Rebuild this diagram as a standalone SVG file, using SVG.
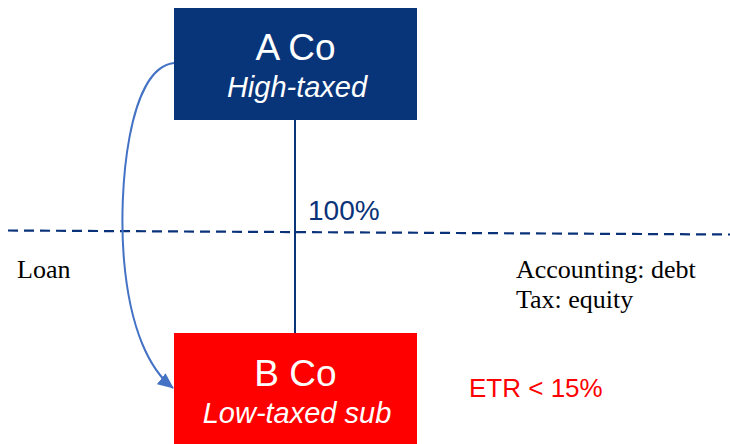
<svg xmlns="http://www.w3.org/2000/svg" width="730" height="444" viewBox="0 0 730 444">
  <style>
    .title { font-family: "Liberation Sans", Arial, sans-serif; font-size: 37px; fill: #ffffff; text-anchor: middle; }
    .sub { font-family: "Liberation Sans", Arial, sans-serif; font-size: 29px; font-style: italic; fill: #ffffff; text-anchor: middle; }
    .note { font-family: "Liberation Serif", "Times New Roman", serif; font-size: 26px; fill: #000000; }
  </style>
  <defs>
    <marker id="arrow" markerWidth="16" markerHeight="14" refX="15" refY="7" orient="auto" markerUnits="userSpaceOnUse" viewBox="0 0 16 14">
      <path d="M0,0 L16,7 L0,14 Z" fill="#4472C4"/>
    </marker>
  </defs>

  <rect width="730" height="444" fill="#ffffff"/>

  <!-- connectors -->
  <g id="connectors">
    <line x1="8" y1="230.5" x2="730" y2="234.5" stroke="#0A3278" stroke-width="2.2" stroke-dasharray="10,6"/>
    <line x1="295" y1="120" x2="295" y2="333" stroke="#0A3478" stroke-width="2"/>
    <path d="M174,63 C128,68 118,190 124,260 C130,330 150,370 173,388" fill="none" stroke="#4472C4" stroke-width="2" marker-end="url(#arrow)"/>
  </g>

  <g id="a-co">
    <rect x="174" y="8" width="243" height="112" fill="#08357A"/>
    <text class="title" x="295.5" y="60">A Co</text>
    <text class="sub" x="297" y="97">High-taxed</text>
  </g>

  <g id="b-co">
    <rect x="174" y="333" width="243" height="111" fill="#FF0000"/>
    <text class="title" x="295.5" y="386">B Co</text>
    <text class="sub" x="297" y="423">Low-taxed sub</text>
  </g>

  <g id="labels">
    <text x="308" y="220" font-family="Liberation Sans, Arial, sans-serif" font-size="28" fill="#0A3278">100%</text>
    <text class="note" x="17" y="278">Loan</text>
    <text class="note" x="516" y="278">Accounting: debt</text>
    <text class="note" x="516" y="308">Tax: equity</text>
    <text x="469" y="397" font-family="Liberation Sans, Arial, sans-serif" font-size="26" fill="#FF0000">ETR &lt; 15%</text>
  </g>
</svg>
